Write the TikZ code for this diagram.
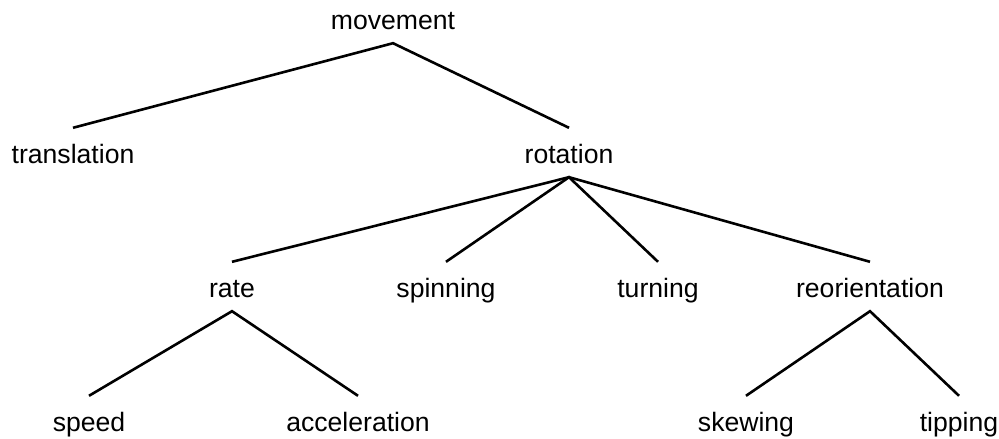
\documentclass[tikz,border=0pt]{standalone}
\usepackage{fontspec}
\setmainfont{Liberation Sans}
\usepackage{tikz}
\tikzset{
    word/.style={anchor=base, font=\fontsize{26.6}{32}\selectfont,
        text height=27pt, text depth=6pt, inner xsep=0pt, inner ysep=8pt},
    branch/.style={black, line width=2.6pt}
}

\begin{document}
\begin{tikzpicture}[x=1pt, y=-1pt]

\useasboundingbox (0, 0) rectangle (999, 439);

% Top levels
\node[word] (movement) at (393, 29) {movement};
\node[word] (translation) at (73, 163) {translation};
\node[word] (rotation) at (569, 163) {rotation};

% Third level
\node[word] (rate) at (232, 297) {rate};
\node[word] (spinning) at (446, 297) {spinning};
\node[word] (turning) at (658, 297) {turning};
\node[word] (reorientation) at (870, 297) {reorientation};

% Bottom level
\node[word] (speed) at (89, 431) {speed};
\node[word] (acceleration) at (358, 431) {acceleration};
\node[word] (skewing) at (746, 431) {skewing};
\node[word] (tipping) at (959, 431) {tipping};


% Branches
\draw[branch] (translation.north) -- (movement.south) -- (rotation.north);
\draw[branch] (rate.north) -- (rotation.south) -- (reorientation.north);
\draw[branch] (spinning.north) -- (rotation.south) -- (turning.north);
\draw[branch] (speed.north) -- (rate.south) -- (acceleration.north);
\draw[branch] (skewing.north) -- (reorientation.south) -- (tipping.north);

\end{tikzpicture}
\end{document}
